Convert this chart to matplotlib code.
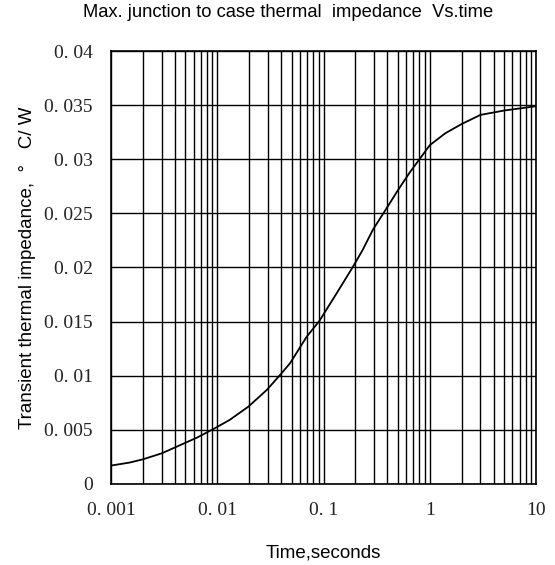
import numpy as np
import matplotlib.pyplot as plt
from matplotlib.ticker import FixedLocator, LogLocator, NullFormatter

# curve
time_s = [0.001, 0.0015, 0.002, 0.003, 0.0045, 0.0065, 0.0092, 0.013, 0.0196, 0.0292,
          0.039, 0.0484, 0.0695, 0.0914, 0.133, 0.188, 0.233, 0.292, 0.4, 0.503,
          0.65, 0.8, 1.0, 1.4, 2.0, 3.0, 5.0, 10.0]
zth = [0.0017, 0.00198, 0.00228, 0.00283, 0.0036, 0.0043, 0.00508, 0.0059, 0.00714, 0.00868,
       0.01007, 0.01115, 0.01361, 0.01506, 0.01762, 0.02002, 0.0216, 0.0235, 0.0256, 0.02716,
       0.0288, 0.0300, 0.0313, 0.0324, 0.03326, 0.0341, 0.0345, 0.0349]

x_ticks = [0.001, 0.01, 0.1, 1, 10]
x_labels = ["0. 001", "0. 01", "0. 1", "1", "10"]
y_ticks = [0, 0.005, 0.01, 0.015, 0.02, 0.025, 0.03, 0.035, 0.04]
y_labels = ["0", "0. 005", "0. 01", "0. 015", "0. 02", "0. 025", "0. 03", "0. 035", "0. 04"]

fig = plt.figure(figsize=(5.55, 5.65), dpi=100)
ax = fig.add_axes([0.2, 0.1434, 0.7658, 0.7663])

ax.plot(time_s, zth, color="black", lw=1.3)

ax.set_xscale("log")
ax.set_xlim(0.001, 10)
ax.set_ylim(0, 0.04)

ax.xaxis.set_major_locator(FixedLocator(x_ticks))
ax.xaxis.set_minor_locator(LogLocator(base=10, subs=np.arange(2, 10)))
ax.xaxis.set_minor_formatter(NullFormatter())
ax.set_xticks(x_ticks)
ax.set_xticklabels(x_labels)
ax.set_yticks(y_ticks)
ax.set_yticklabels(y_labels)

for lab in ax.get_xticklabels() + ax.get_yticklabels():
    lab.set_fontfamily("Liberation Serif")
    lab.set_fontsize(14)
    lab.set_color("#222222")

ax.tick_params(which="both", length=0)
ax.tick_params(axis="x", pad=13)
ax.tick_params(axis="y", pad=13)

ax.grid(True, which="both", axis="x", color="black", lw=1.0)
ax.grid(True, which="major", axis="y", color="black", lw=1.0)
for s in ax.spines.values():
    s.set_linewidth(1.2)

# title sits left of the plot centre in the original
fig.text(0.519, 0.977, "Max. junction to case thermal  impedance  Vs.time",
         family="Liberation Sans", fontsize=13.2, ha="center", va="center")
ax.set_xlabel("Time,seconds", family="Liberation Sans", fontsize=13.5, labelpad=18)
ax.set_ylabel("Transient thermal impedance,  \u00b0   C/ W", family="Liberation Sans",
              fontsize=13.5, labelpad=6)

fig.savefig("out.png", dpi=100)
